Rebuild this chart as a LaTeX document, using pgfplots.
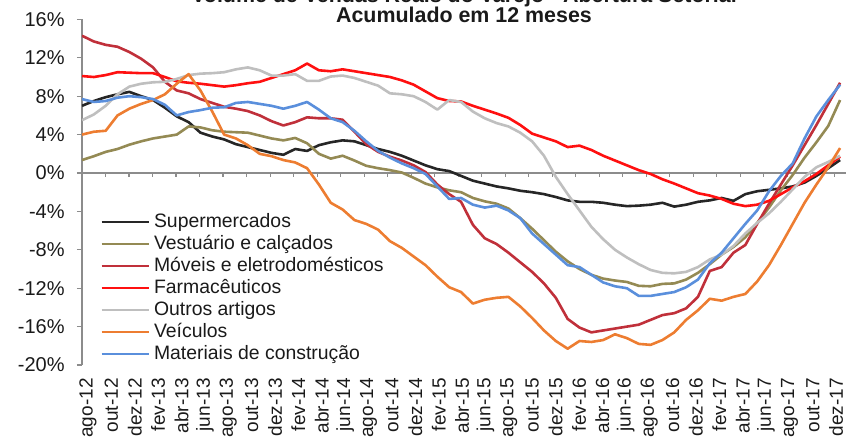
\documentclass[border=0pt]{standalone}
\usepackage{fontspec}
\setmainfont{Liberation Sans}
\usepackage{pgfplots}
\usepackage{pgfplotstable}
\pgfplotsset{compat=1.18}
\definecolor{csup}{HTML}{262626}
\definecolor{cves}{HTML}{948A54}
\definecolor{cmov}{HTML}{C0303A}
\definecolor{cfar}{HTML}{FF1010}
\definecolor{cout}{HTML}{BFBFBF}
\definecolor{cvei}{HTML}{ED7D31}
\definecolor{cmat}{HTML}{5A8FDC}
\definecolor{axisgray}{HTML}{8C8C8C}
\definecolor{tickc}{HTML}{1A1A1A}

\pgfplotstableread{
i  sup   ves   mov    far   out    vei   mat
0  7.0   1.35  14.3   10.1  5.5    4.0   7.7
1  7.5   1.75  13.7   10.0  6.1    4.3   7.4
2  7.9   2.2   13.35  10.2  7.0    4.4   7.5
3  8.2   2.5   13.15  10.5  8.2    6.0   7.85
4  8.45  2.95  12.6   10.45 9.0    6.7   8.0
5  8.0   3.3   11.9   10.4  9.3    7.2   7.9
6  7.6   3.6   11.0   10.4  9.45   7.6   7.7
7  6.8   3.8   9.5    10.0  9.5    8.2   7.1
8  5.9   4.0   8.6    9.55  9.8    9.3   6.0
9  5.3   4.85  8.3    9.4   10.2   10.3  6.35
10 4.2   4.75  7.7    9.3   10.35  8.6   6.55
11 3.8   4.45  7.3    9.15  10.4   6.4   6.8
12 3.5   4.3   6.9    9.0   10.5   4.0   6.85
13 3.0   4.25  6.7    9.15  10.8   3.6   7.3
14 2.7   4.2   6.45   9.35  11.0   2.9   7.4
15 2.4   3.9   6.0    9.5   10.7   2.0   7.2
16 2.1   3.6   5.4    9.9   10.15  1.75  7.0
17 1.9   3.4   4.95   10.3  10.15  1.35  6.7
18 2.5   3.65  5.3    10.7  10.3   1.1   7.0
19 2.3   3.1   5.8    11.4  9.6    0.5   7.4
20 2.9   2.0   5.7    10.7  9.6    -1.2  6.6
21 3.2   1.5   5.7    10.6  10.05  -3.1  5.7
22 3.4   1.8   5.55   10.8  10.15  -3.8  5.3
23 3.3   1.3   4.3    10.6  9.9    -4.9  4.4
24 2.9   0.75  3.0    10.4  9.5    -5.3  3.3
25 2.5   0.5   2.2    10.2  9.1    -5.9  2.3
26 2.2   0.3   1.7    10.0  8.3    -7.1  1.6
27 1.8   0.05  1.3    9.65  8.2    -7.8  1.0
28 1.3   -0.5  0.8    9.2   8.0    -8.7  0.5
29 0.8   -1.1  0.1    8.5   7.4    -9.6  -0.1
30 0.4   -1.5  -1.2   7.8   6.6    -10.8 -1.4
31 0.2   -1.8  -2.2   7.5   7.6    -11.9 -2.7
32 -0.3  -2.0  -3.0   7.45  7.4    -12.4 -2.6
33 -0.8  -2.6  -5.4   7.0   6.4    -13.6 -3.3
34 -1.1  -2.95 -6.8   6.6   5.7    -13.2 -3.6
35 -1.4  -3.2  -7.4   6.2   5.2    -13.0 -3.4
36 -1.6  -3.7  -8.3   5.75  4.85   -12.9 -3.9
37 -1.85 -4.7  -9.3   5.0   4.2    -13.9 -4.7
38 -2.0  -5.8  -10.3  4.1   3.3    -15.1 -6.3
39 -2.2  -7.0  -11.5  3.7   1.8    -16.4 -7.4
40 -2.5  -8.2  -13.0  3.3   -0.4   -17.5 -8.5
41 -2.85 -9.2  -15.2  2.7   -2.2   -18.3 -9.6
42 -3.0  -10.0 -16.1  2.85  -3.9   -17.5 -9.8
43 -3.0  -10.6 -16.6  2.4   -5.6   -17.6 -10.6
44 -3.1  -11.0 -16.4  1.8   -6.9   -17.4 -11.4
45 -3.3  -11.2 -16.2  1.3   -8.0   -16.8 -11.8
46 -3.45 -11.35 -16.0 0.8   -8.8   -17.2 -12.0
47 -3.4  -11.75 -15.8 0.3   -9.5   -17.8 -12.8
48 -3.3  -11.8 -15.3  -0.1  -10.1  -17.9 -12.8
49 -3.1  -11.55 -14.8 -0.65 -10.4  -17.4 -12.6
50 -3.5  -11.5 -14.6  -1.1  -10.45 -16.6 -12.4
51 -3.3  -11.1 -14.1  -1.6  -10.3  -15.3 -11.9
52 -3.0  -10.4 -12.9  -2.1  -9.8   -14.3 -11.1
53 -2.85 -9.5  -10.2  -2.35 -9.0   -13.1 -9.4
54 -2.6  -8.5  -9.8   -2.7  -8.5   -13.3 -8.3
55 -2.9  -7.7  -8.3   -3.2  -7.6   -12.9 -6.8
56 -2.2  -6.7  -7.5   -3.45 -6.3   -12.6 -5.3
57 -1.9  -5.2  -5.3   -3.3  -5.2   -11.3 -3.9
58 -1.75 -3.6  -3.2   -2.9  -4.2   -9.6  -1.9
59 -1.6  -1.8  -1.2   -2.2  -3.0   -7.5  -0.3
60 -1.4  -0.2  0.8    -1.5  -1.7   -5.3  1.0
61 -1.0  1.6   2.9    -0.85 -0.4   -3.1  3.6
62 -0.3  3.2   5.0    -0.1  0.6    -1.2  5.9
63 0.5   4.9   7.2    0.8   1.15   0.6   7.6
64 1.35  7.6   9.4    1.7   1.8    2.6   9.2
}\datatable

\begin{document}
\begin{tikzpicture}
\begin{axis}[
  at={(0,0)}, anchor=south west,
  scale only axis, width=382pt, height=172.8pt,
  xmin=0, xmax=64.5, ymin=-20, ymax=16,
  clip mode=individual,
  axis x line*=bottom, axis y line*=left,
  x axis line style={draw=none},
  y axis line style={draw=axisgray, line width=0.6pt},
  tick align=outside,
  major tick length=2.5pt,
  major x tick style={draw=none},
  major y tick style={draw=axisgray, line width=0.6pt},
  xtick={0.51,2.48,4.46,6.43,8.40,10.38,12.35,14.32,16.30,18.27,20.25,22.22,24.20,26.17,28.14,30.12,32.09,34.06,36.04,38.01,39.99,41.96,43.93,45.91,47.88,49.86,51.83,53.80,55.78,57.75,59.73,61.70,63.67},
  xticklabels={ago-12,out-12,dez-12,fev-13,abr-13,jun-13,ago-13,out-13,dez-13,fev-14,abr-14,jun-14,ago-14,out-14,dez-14,fev-15,abr-15,jun-15,ago-15,out-15,dez-15,fev-16,abr-16,jun-16,ago-16,out-16,dez-16,fev-17,abr-17,jun-17,ago-17,out-17,dez-17},
  xticklabel style={rotate=90, anchor=east, inner xsep=4pt, inner ysep=0pt, font=\fontsize{9.5}{10}\selectfont, text=tickc},
  ytick={-20,-16,...,16},
  yticklabels={-20\%,-16\%,-12\%,-8\%,-4\%,0\%,4\%,8\%,12\%,16\%},
  yticklabel style={anchor=east, inner xsep=0pt, xshift=-6pt, font=\fontsize{10}{11}\selectfont, text=tickc},
  legend style={draw=none, fill=none, at={(0.0236,0.003)}, anchor=south west, inner sep=0pt,
    font=\fontsize{9.7}{11}\selectfont, row sep=1.5pt,
    nodes={inner sep=0pt, text height=7.5pt, text depth=2pt, text=tickc},
    /tikz/every odd column/.append style={column sep=2pt}},
  legend cell align=left,
  legend image code/.code={\draw[#1] (0pt,0pt) -- (23.5pt,0pt);},
  every axis plot/.append style={line width=1.3pt, line join=round, no markers},
]
\draw[axisgray, line width=0.6pt] (axis cs:0,0) -- (axis cs:64.5,0);
\pgfplotsinvokeforeach{1,...,32}{\draw[axisgray, line width=0.6pt] (axis cs:{1.985*#1},0) -- (axis cs:{1.985*#1},-0.45);}
\addplot[csup] table[x=i, y=sup] {\datatable};
\addlegendentry{Supermercados}
\addplot[cves] table[x=i, y=ves] {\datatable};
\addlegendentry{Vestuário e calçados}
\addplot[cmov] table[x=i, y=mov] {\datatable};
\addlegendentry{Móveis e eletrodomésticos}
\addplot[cfar] table[x=i, y=far] {\datatable};
\addlegendentry{Farmacêuticos}
\addplot[cout] table[x=i, y=out] {\datatable};
\addlegendentry{Outros artigos}
\addplot[cvei] table[x=i, y=vei] {\datatable};
\addlegendentry{Veículos}
\addplot[cmat] table[x=i, y=mat] {\datatable};
\addlegendentry{Materiais de construção}
\node[anchor=base, yshift=8.3pt, font=\bfseries\fontsize{10.7}{12}\selectfont, text=tickc] at (rel axis cs:0.5,1) {Volume de Vendas Reais do Varejo - Abertura Setorial};
\node[anchor=base, yshift=-1.3pt, font=\bfseries\fontsize{10.7}{12}\selectfont, text=tickc] at (rel axis cs:0.5,1) {Acumulado em 12 meses};
\end{axis}
\pgfresetboundingbox
\useasboundingbox (-41pt,-35.5pt) rectangle (384pt,182.5pt);
\end{tikzpicture}
\end{document}
